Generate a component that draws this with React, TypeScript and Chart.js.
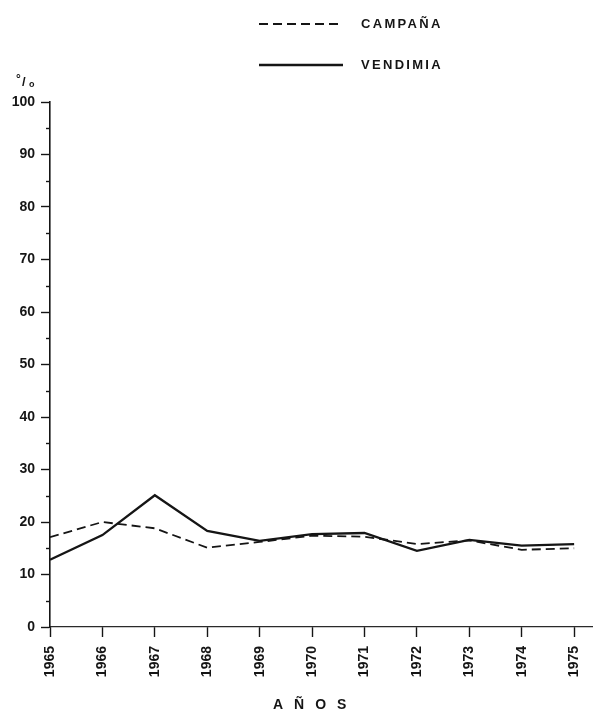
import React, { useEffect, useRef } from "react";
import { Chart, registerables } from "chart.js";

Chart.register(...registerables);

const YEARS = [1965, 1966, 1967, 1968, 1969, 1970, 1971, 1972, 1973, 1974, 1975];
const CAMPANA = [17.1, 20.0, 18.8, 15.1, 16.2, 17.4, 17.2, 15.8, 16.5, 14.7, 15.0];
const VENDIMIA = [12.8, 17.5, 25.1, 18.3, 16.4, 17.7, 17.9, 14.5, 16.6, 15.5, 15.8];
const Y_MAJOR = [0, 10, 20, 30, 40, 50, 60, 70, 80, 90, 100];
const Y_MINOR = [5, 15, 25, 35, 45, 55, 65, 75, 85, 95];
const SERIES_NAMES = ["CAMPAÑA", "VENDIMIA"];
const X_TITLE = "AÑOS";
const Y_UNIT = ["°", "/", "o"];

const INK = "#151515";
const FONT = '"Liberation Sans", Arial, sans-serif';

const decorPlugin = {
  id: "decor",
  afterDraw(chart: any) {
    const ctx = chart.ctx as CanvasRenderingContext2D;
    const ys = chart.scales.y;
    ctx.save();
    ctx.strokeStyle = INK;
    ctx.fillStyle = INK;

    // minor y ticks
    ctx.lineWidth = 1.4;
    Y_MINOR.forEach((v) => {
      const py = Math.round(ys.getPixelForValue(v)) + 0.5;
      ctx.beginPath();
      ctx.moveTo(ys.right - 4, py);
      ctx.lineTo(ys.right, py);
      ctx.stroke();
    });

    // legend
    const legendY = [24, 65];
    chart.data.datasets.forEach((ds: any, i: number) => {
      const ly = legendY[i];
      ctx.setLineDash(ds.borderDash || []);
      ctx.lineWidth = ds.borderWidth;
      ctx.strokeStyle = ds.borderColor;
      ctx.beginPath();
      ctx.moveTo(259, ly);
      ctx.lineTo(343, ly);
      ctx.stroke();
      ctx.setLineDash([]);
      ctx.font = `bold 13px ${FONT}`;
      (ctx as any).letterSpacing = "2.3px";
      ctx.textBaseline = "middle";
      ctx.textAlign = "left";
      ctx.fillText(ds.label, 361, ly);
    });

    // unit label
    (ctx as any).letterSpacing = "0px";
    ctx.textBaseline = "middle";
    ctx.font = `bold 12px ${FONT}`;
    ctx.fillText(Y_UNIT[0], 16, 80);
    ctx.font = `bold 13px ${FONT}`;
    ctx.fillText(Y_UNIT[1], 22, 82);
    ctx.font = `bold 9px ${FONT}`;
    ctx.fillText(Y_UNIT[2], 29, 85);

    // x title
    ctx.font = `bold 14px ${FONT}`;
    (ctx as any).letterSpacing = "11px";
    ctx.textAlign = "left";
    ctx.fillText(X_TITLE, 273, 705);
    ctx.restore();
  },
};

export default function App() {
  const ref = useRef<HTMLCanvasElement | null>(null);

  useEffect(() => {
    if (!ref.current) return;
    const chart = new Chart(ref.current, {
      type: "line",
      data: {
        datasets: [
          {
            label: SERIES_NAMES[0],
            data: YEARS.map((x, i) => ({ x, y: CAMPANA[i] })),
            borderColor: INK,
            borderWidth: 1.8,
            borderDash: [9, 5],
            pointRadius: 0,
            tension: 0,
            fill: false,
          },
          {
            label: SERIES_NAMES[1],
            data: YEARS.map((x, i) => ({ x, y: VENDIMIA[i] })),
            borderColor: INK,
            borderWidth: 2.3,
            pointRadius: 0,
            tension: 0,
            fill: false,
          },
        ],
      },
      options: {
        responsive: false,
        animation: false,
        layout: { padding: { top: 102, left: 0, right: 0, bottom: 0 } },
        plugins: {
          legend: { display: false },
          tooltip: { enabled: false },
        },
        scales: {
          x: {
            type: "linear",
            min: YEARS[0],
            max: YEARS[YEARS.length - 1] + 0.36,
            afterBuildTicks: (scale: any) => {
              scale.ticks = YEARS.map((v) => ({ value: v }));
            },
            afterFit: (scale: any) => {
              scale.height = 85;
              scale.paddingLeft = 0;
              scale.paddingRight = 0;
            },
            grid: {
              drawOnChartArea: false,
              drawTicks: true,
              tickLength: 10,
              tickWidth: 1.4,
              tickColor: INK,
            },
            border: { display: true, color: "#2a2a2a", width: 1.2 },
            ticks: {
              minRotation: 90,
              maxRotation: 90,
              autoSkip: false,
              padding: 9,
              color: INK,
              font: { family: FONT, size: 14, weight: "bold" },
              callback: (v: any) => String(v),
            },
          },
          y: {
            type: "linear",
            min: 0,
            max: 100,
            afterBuildTicks: (scale: any) => {
              scale.ticks = Y_MAJOR.map((v) => ({ value: v }));
            },
            afterFit: (scale: any) => {
              scale.width = 50;
            },
            grid: {
              drawOnChartArea: false,
              drawTicks: true,
              tickLength: 9,
              tickWidth: 1.4,
              tickColor: INK,
            },
            border: { display: true, color: INK, width: 1.6 },
            ticks: {
              padding: 6,
              color: INK,
              font: { family: FONT, size: 14, weight: "bold" },
              callback: (v: any) => String(v),
            },
          },
        },
      },
      plugins: [decorPlugin],
    } as any);
    return () => chart.destroy();
  }, []);

  return (
    <div style={{ position: "absolute", left: 0, top: 0, width: 593, height: 712, background: "#fff" }}>
      <canvas ref={ref} width={593} height={712} style={{ width: 593, height: 712, display: "block" }} />
    </div>
  );
}
